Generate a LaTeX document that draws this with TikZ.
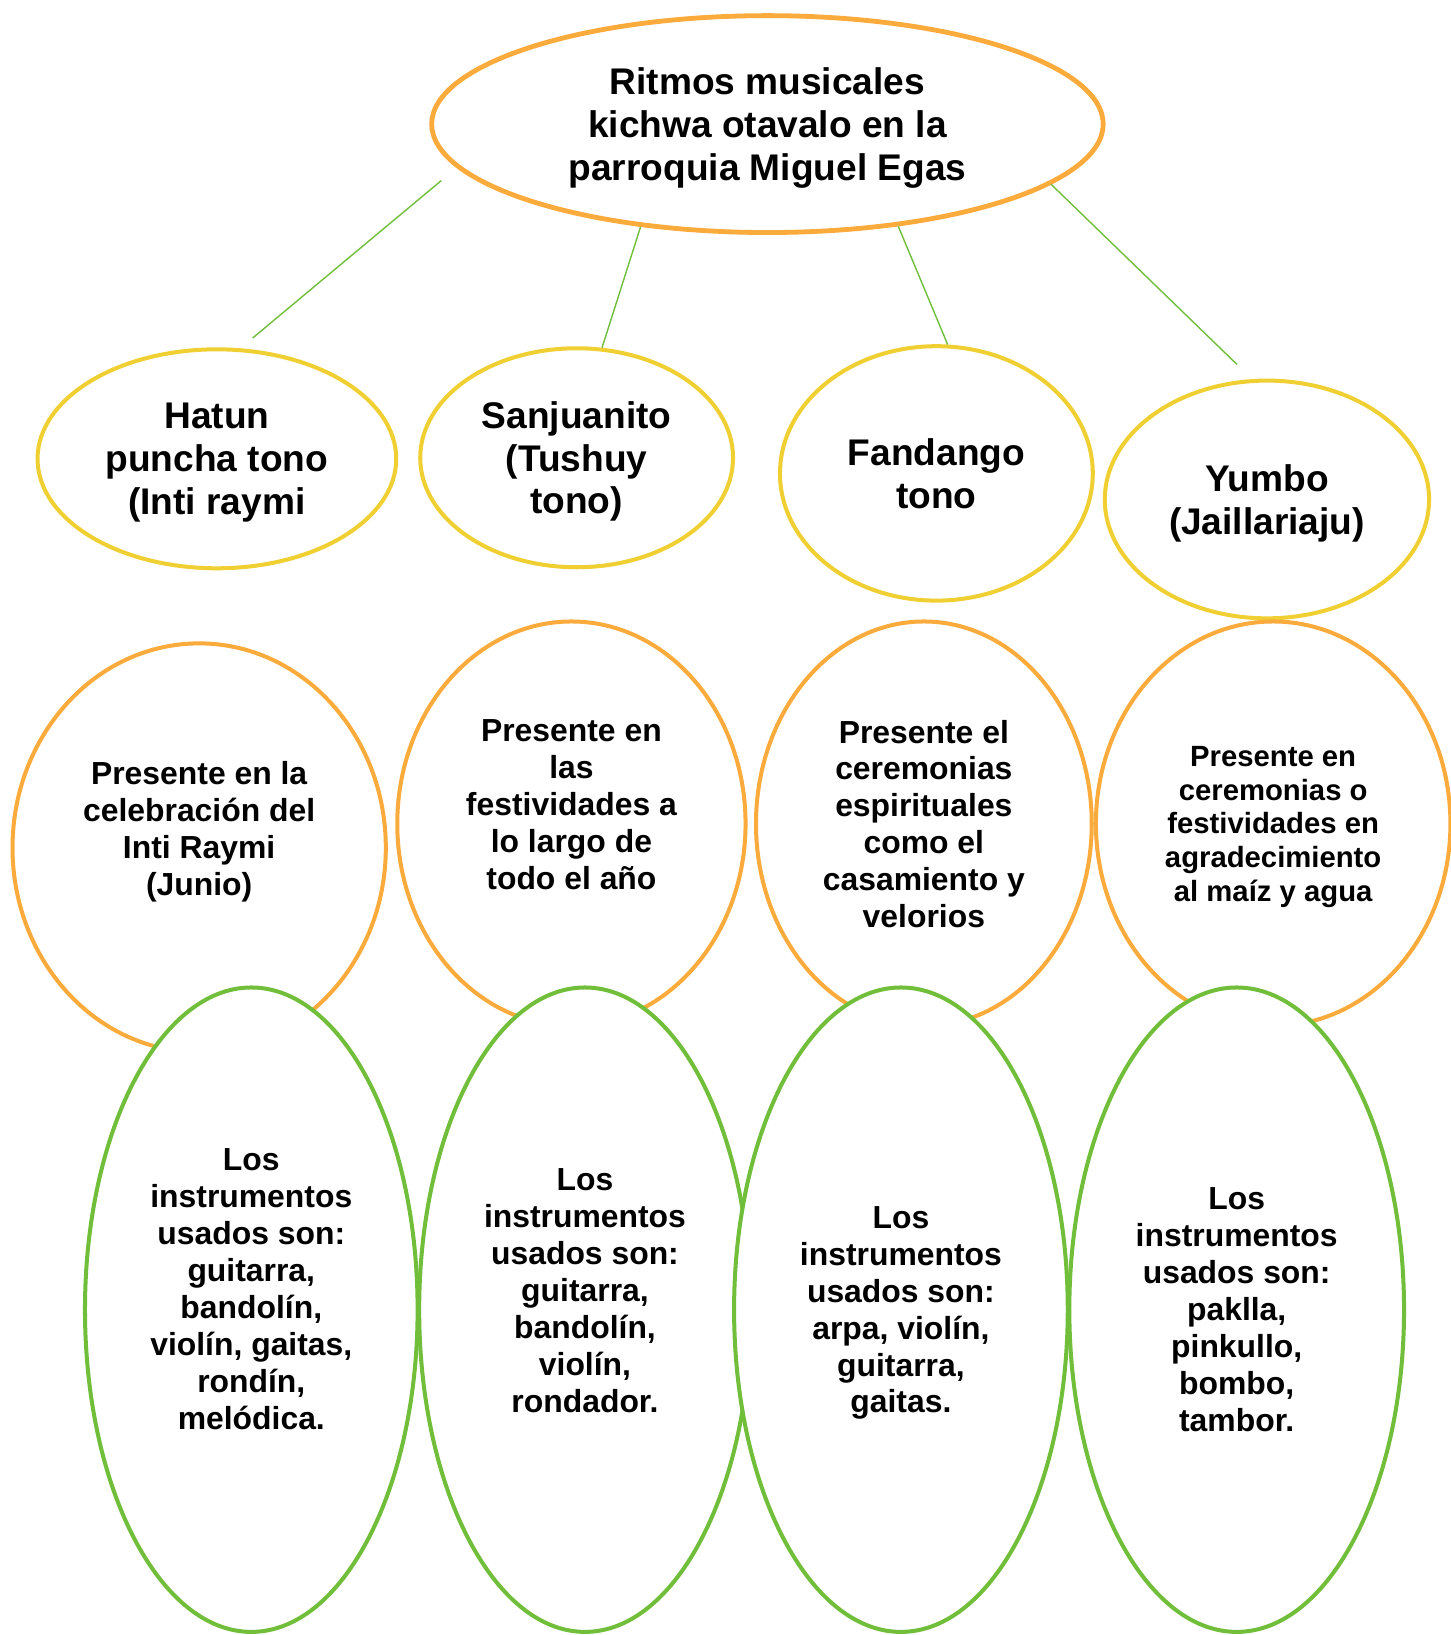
\documentclass[tikz,border=0pt]{standalone}
\usepackage{fontspec}
\setmainfont{Liberation Sans}
\usepackage{tikz}
\usetikzlibrary{shapes}
\definecolor{ovOrange}{RGB}{251,170,60}
\definecolor{ovYellow}{RGB}{240,207,50}
\definecolor{ovGreen}{RGB}{112,190,58}

\begin{document}
\begin{tikzpicture}[x=0.52pt, y=-0.52pt, main node/.style={ellipse,draw,fill=white,line width=2pt,inner sep=0pt,align=center}, big text/.style={font=\fontsize{18.5}{21.3}\selectfont\bfseries,text depth=-1pt}, small text/.style={font=\fontsize{15.9}{18.4}\selectfont\bfseries,text depth=-3pt}, tiny text/.style={font=\fontsize{14.6}{16.8}\selectfont\bfseries,text depth=-3pt}]
\useasboundingbox (0,0) rectangle (1391,1568);
\begin{scope}[every node/.style={main node}]
% title
\node[big text, draw=ovOrange, line width=2.4pt, minimum width=644*0.52pt, minimum height=208*0.52pt] (vR) at (736,119) {Ritmos musicales\\kichwa otavalo en la\\parroquia Miguel Egas};
% rhythms
\node[big text, draw=ovYellow, minimum width=344*0.52pt, minimum height=210*0.52pt] (vH) at (208,440) {Hatun\\puncha tono\\(Inti raymi};
\node[big text, draw=ovYellow, minimum width=300*0.52pt, minimum height=210*0.52pt] (vS) at (553,439) {Sanjuanito\\(Tushuy\\tono)};
\node[big text, draw=ovYellow, minimum width=300*0.52pt, minimum height=244*0.52pt] (vF) at (898,454) {Fandango\\tono};
\node[big text, draw=ovYellow, minimum width=311*0.52pt, minimum height=228*0.52pt] (vY) at (1215,479) {Yumbo\\(Jaillariaju)};
% where they are played
\node[small text, text depth=19pt, draw=ovOrange, minimum width=358*0.52pt, minimum height=392*0.52pt] (vP1) at (191,813) {Presente en la\\celebración del\\Inti Raymi\\(Junio)};
\node[small text, text depth=19pt, draw=ovOrange, minimum width=334*0.52pt, minimum height=388*0.52pt] (vP2) at (548,790) {Presente en\\las\\festividades a\\lo largo de\\todo el año};
\node[small text, draw=ovOrange, minimum width=322*0.52pt, minimum height=388*0.52pt] (vP3) at (886,790) {Presente el\\ceremonias\\espirituales\\como el\\casamiento y\\velorios};
\node[tiny text, draw=ovOrange, minimum width=340*0.52pt, minimum height=388*0.52pt] (vP4) at (1221,790) {Presente en\\ceremonias o\\festividades en\\agradecimiento\\al maíz y agua};
% instruments
\node[small text, text depth=20.5pt, draw=ovGreen, minimum width=319*0.52pt, minimum height=618*0.52pt] (vI1) at (241,1256) {Los\\instrumentos\\usados son:\\guitarra,\\bandolín,\\violín, gaitas,\\rondín,\\melódica.};
\node[small text, text depth=19pt, draw=ovGreen, minimum width=318*0.52pt, minimum height=618*0.52pt] (vI2) at (561,1256) {Los\\instrumentos\\usados son:\\guitarra,\\bandolín,\\violín,\\rondador.};
\node[small text, draw=ovGreen, minimum width=320*0.52pt, minimum height=618*0.52pt] (vI3) at (864,1256) {Los\\instrumentos\\usados son:\\arpa, violín,\\guitarra,\\gaitas.};
\node[small text, draw=ovGreen, minimum width=321*0.52pt, minimum height=618*0.52pt] (vI4) at (1186,1256) {Los\\instrumentos\\usados son:\\paklla,\\pinkullo,\\bombo,\\tambor.};
\end{scope}
\begin{scope}[every edge/.style={draw=ovGreen,line width=0.7pt}]
\draw (vR.188) edge[shorten <=10pt, shorten >=8pt] (vH.78);
\draw (vR.219) edge (vS.77);
\draw (vR.322) edge (vF.85);
\draw (vR.348) edge[shorten >=10.5pt] (vY.97);
\end{scope}
\end{tikzpicture}
\end{document}
